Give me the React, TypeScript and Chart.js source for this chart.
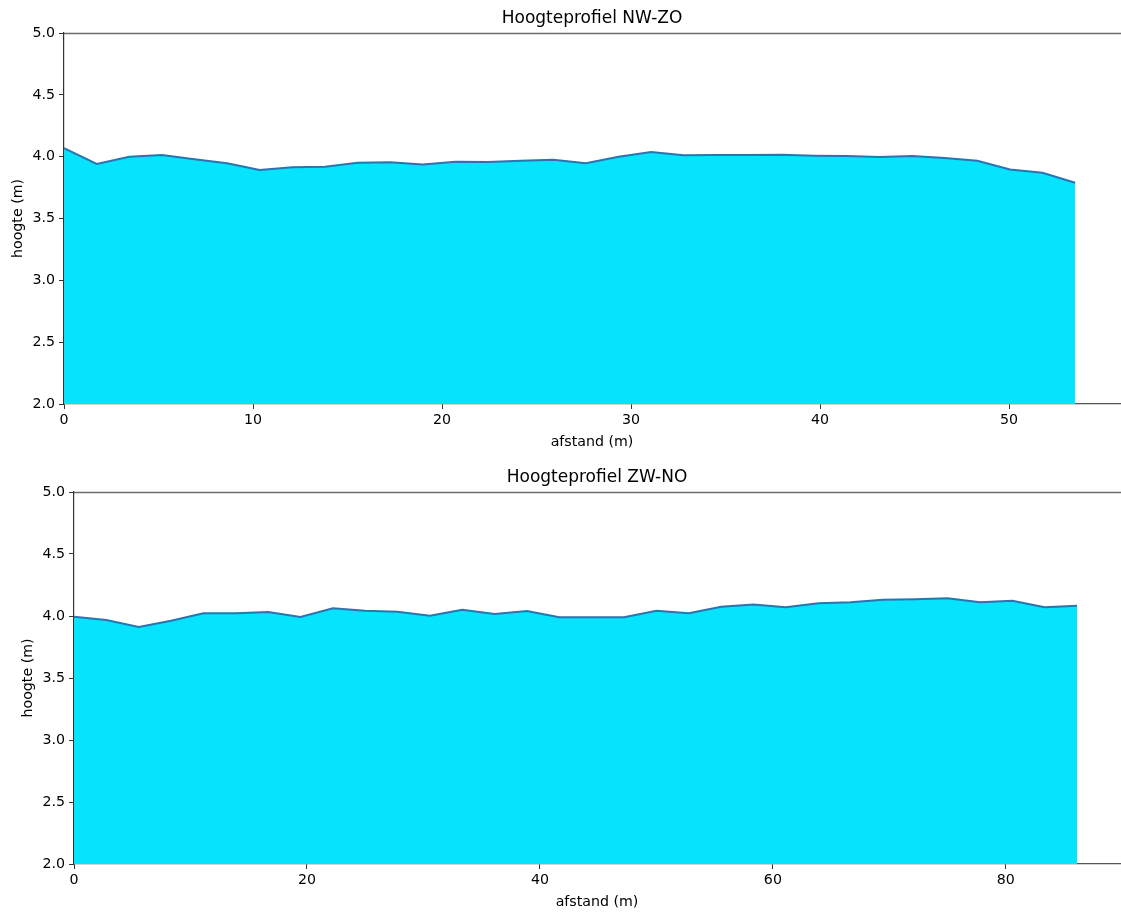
import React, { useEffect, useRef } from "react";
import { Chart, registerables } from "chart.js";

Chart.register(...registerables);

// ---- Data: top profile (NW-ZO) ----
const nwzoDistance = [
  0, 1.73, 3.45, 5.18, 6.9, 8.63, 10.35, 12.08, 13.81, 15.53, 17.26, 18.98,
  20.71, 22.44, 24.16, 25.89, 27.61, 29.34, 31.06, 32.79, 34.52, 36.24, 37.97,
  39.69, 41.42, 43.15, 44.87, 46.6, 48.32, 50.05, 51.77, 53.5,
];
const nwzoHeight = [
  4.068, 3.941, 4.0, 4.013, 3.979, 3.946, 3.892, 3.914, 3.919, 3.951, 3.955,
  3.937, 3.959, 3.957, 3.967, 3.975, 3.946, 4.0, 4.038, 4.011, 4.013, 4.013,
  4.016, 4.008, 4.005, 3.997, 4.005, 3.989, 3.967, 3.897, 3.87, 3.789,
];
const nwzoXTicks = [0, 10, 20, 30, 40, 50];

// ---- Data: bottom profile (ZW-NO) ----
const zwnoDistance = [
  0, 2.78, 5.56, 8.33, 11.11, 13.89, 16.67, 19.44, 22.22, 25.0, 27.78, 30.56,
  33.33, 36.11, 38.89, 41.67, 44.44, 47.22, 50.0, 52.78, 55.56, 58.33, 61.11,
  63.89, 66.67, 69.44, 72.22, 75.0, 77.78, 80.56, 83.33, 86.11,
];
const zwnoHeight = [
  3.994, 3.968, 3.911, 3.962, 4.022, 4.022, 4.032, 3.992, 4.062, 4.043, 4.035,
  4.002, 4.051, 4.016, 4.04, 3.99, 3.99, 3.99, 4.043, 4.022, 4.075, 4.093,
  4.07, 4.102, 4.11, 4.131, 4.135, 4.143, 4.11, 4.123, 4.07, 4.083,
];
const zwnoXTicks = [0, 20, 40, 60, 80];

const yTicks = [2.0, 2.5, 3.0, 3.5, 4.0, 4.5, 5.0];
const yMin = 2.0;
const yMax = 5.0;

const xLabel = "afstand (m)";
const yLabel = "hoogte (m)";

const FONT = "'DejaVu Sans', sans-serif";
const TICK_SIZE = 14.2;

type PanelProps = {
  title: string;
  xs: number[];
  ys: number[];
  xTicks: number[];
  xMax: number;
  height: number;
  top: number;
  padTop: number;
  leftWidth: number;
  yTitlePad: number;
  xAxisHeight: number;
  xTitlePad: number;
};

function Panel(p: PanelProps) {
  const ref = useRef<HTMLCanvasElement | null>(null);
  useEffect(() => {
    if (!ref.current) return;
    const spinePlugin = {
      id: "spinesAndTitle",
      afterDraw(chart: any) {
        const { ctx, chartArea } = chart;
        ctx.save();
        ctx.strokeStyle = "#6b6b6b";
        ctx.lineWidth = 1.3;
        ctx.beginPath();
        ctx.moveTo(chartArea.left, chartArea.top + 0.5);
        ctx.lineTo(chartArea.right + 1, chartArea.top + 0.5);
        ctx.stroke();
        ctx.fillStyle = "#000";
        ctx.font = `17px ${FONT}`;
        ctx.textAlign = "center";
        ctx.textBaseline = "middle";
        ctx.fillText(p.title, (chartArea.left + chartArea.right) / 2, chartArea.top - 14);
        ctx.restore();
      },
    };
    const chart = new Chart(ref.current, {
      type: "line",
      data: {
        datasets: [
          {
            data: p.xs.map((x, i) => ({ x, y: p.ys[i] })),
            borderColor: "#2a74b0",
            borderWidth: 2,
            backgroundColor: "#05e3fd",
            fill: "start",
            pointRadius: 0,
            tension: 0,
          },
        ],
      },
      options: {
        responsive: false,
        animation: false,
        devicePixelRatio: 1,
        layout: { padding: { top: p.padTop, left: 0, right: 1, bottom: 0 } },
        plugins: {
          legend: { display: false },
          tooltip: { enabled: false },
          title: { display: false },
        },
        scales: {
          x: {
            type: "linear",
            min: 0,
            max: p.xMax,
            afterBuildTicks: (s: any) => {
              s.ticks = p.xTicks.map((v) => ({ value: v }));
            },
            afterFit: (s: any) => {
              s.height = p.xAxisHeight;
            },
            ticks: {
              color: "#000",
              font: { family: FONT, size: TICK_SIZE },
              padding: 3,
              maxRotation: 0,
              autoSkip: false,
              callback: (v: any) => String(v),
            },
            grid: {
              drawOnChartArea: false,
              drawTicks: true,
              tickLength: 5,
              color: "#333",
            },
            border: { display: true, color: "#555", width: 1.3 },
            title: {
              display: true,
              text: xLabel,
              color: "#000",
              font: { family: FONT, size: TICK_SIZE },
              padding: { top: 0, bottom: p.xTitlePad },
            },
          },
          y: {
            type: "linear",
            min: yMin,
            max: yMax,
            afterBuildTicks: (s: any) => {
              s.ticks = yTicks.map((v) => ({ value: v }));
            },
            afterFit: (s: any) => {
              s.width = p.leftWidth;
            },
            ticks: {
              color: "#000",
              font: { family: FONT, size: TICK_SIZE },
              padding: 4,
              callback: (v: any) => Number(v).toFixed(1),
            },
            grid: {
              drawOnChartArea: false,
              drawTicks: true,
              tickLength: 5,
              color: "#333",
            },
            border: { display: true, color: "#333", width: 1.2 },
            title: {
              display: true,
              text: yLabel,
              color: "#000",
              font: { family: FONT, size: TICK_SIZE },
              padding: { top: p.yTitlePad, bottom: 0 },
            },
          },
        },
      },
      plugins: [spinePlugin],
    } as any);
    return () => chart.destroy();
  }, []);
  return (
    <canvas
      ref={ref}
      width={1121}
      height={p.height}
      style={{ position: "absolute", left: 0, top: p.top, display: "block", width: 1121, height: p.height }}
    />
  );
}

export default function App() {
  return (
    <div style={{ position: "absolute", left: 0, top: 0, width: 1121, height: 912, background: "#fff" }}>
      <Panel
        title="Hoogteprofiel NW-ZO"
        xs={nwzoDistance}
        ys={nwzoHeight}
        xTicks={nwzoXTicks}
        xMax={55.87}
        height={456}
        top={0}
        padTop={33}
        leftWidth={64}
        yTitlePad={9.5}
        xAxisHeight={52}
        xTitlePad={5}
      />
      <Panel
        title="Hoogteprofiel ZW-NO"
        xs={zwnoDistance}
        ys={zwnoHeight}
        xTicks={zwnoXTicks}
        xMax={89.8}
        height={456}
        top={456}
        padTop={36}
        leftWidth={74}
        yTitlePad={19.5}
        xAxisHeight={48}
        xTitlePad={1}
      />
    </div>
  );
}
